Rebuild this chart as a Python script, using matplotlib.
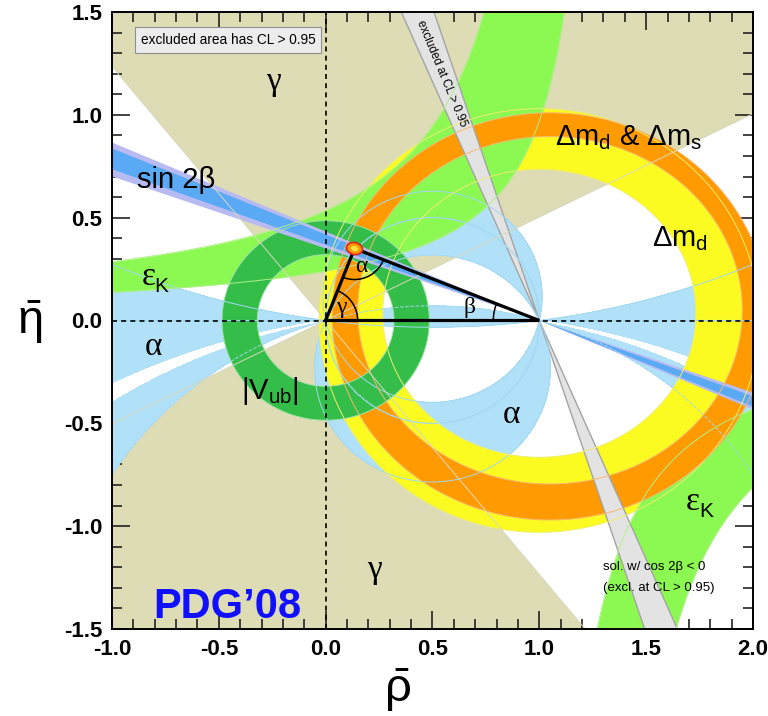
import matplotlib
matplotlib.use("Agg")
import matplotlib.pyplot as plt
import numpy as np
from matplotlib.patches import Wedge, Ellipse, PathPatch
from matplotlib.path import Path
from matplotlib.ticker import MultipleLocator

plt.rcParams['mathtext.fontset'] = 'custom'
plt.rcParams['mathtext.rm'] = 'Liberation Sans'
plt.rcParams['mathtext.it'] = 'Liberation Sans'
plt.rcParams['mathtext.default'] = 'rm'

# ---- constraint regions (95% CL) in the (rho, eta) plane ----
gamma_wedges = [(26.7, 129.0), (206.7, 309.0)]     # allowed directions from (0,0), deg
alpha_band = (77.0, 115.0)                          # alpha mod 180, deg
alpha_band_zero = (-16.3, 7.5)                      # solutions around alpha = 0 (mod 180)
alpha_gap = (-10.3, -8.4)                           # excluded sliver (signed alpha)
# rings: (center, semi-axes) of inner and outer edge
dmd_inner = ((1.0, 0.035), (0.733, 0.70))
dmd_outer = ((1.0, 0.0), (1.03, 1.03))
dms_inner = ((1.05, 0.05), (0.90, 0.845))
dms_outer = ((1.05, 0.02), (1.02, 0.99))
vub_inner = ((0.0, 0.0), (0.32, 0.32))
vub_outer = ((0.0, 0.0), (0.485, 0.485))
beta_outer = (19.3, 23.4)
beta_inner = (20.2, 22.7)
beta_excl = (66.7, 71.8)                            # cos 2beta < 0 solution
epsk_upper = [(1.33, 0.32), (1.15, 0.615)]          # eta*(a - rho) = k, inner / outer edge
epsk_lower = [(0.977, 0.44), (1.217, 0.634)]
apex = (0.135, 0.35)

xticks = [-1.0, -0.5, 0.0, 0.5, 1.0, 1.5, 2.0]
yticks = [-1.5, -1.0, -0.5, 0.0, 0.5, 1.0, 1.5]

c_gamma = '#dddcb4'
c_alpha = '#b1e1f8'
c_dmd = '#fbfb22'
c_dms = '#ff9a00'
c_epsk = '#8cf852'
c_vub = '#34bd48'
c_beta = '#5aa9f5'
c_beta2 = '#b7bbf2'
c_excl = '#e3e3e3'

W, H = 768, 716
fig = plt.figure(figsize=(W / 100, H / 100), dpi=100)
ax = fig.add_axes([112 / W, 1 - 629 / H, 641 / W, 617 / H])
ax.set_xlim(-1, 2)
ax.set_ylim(-1.5, 1.5)
sx = 641 / 3.0
sy = 617 / 3.0
tt = np.linspace(0, 2 * np.pi, 720)


def ellipse_xy(edge, reverse=False):
    (cx, cy), (rx, ry) = edge
    t = tt[::-1] if reverse else tt
    return cx + rx * np.cos(t), cy + ry * np.sin(t)


def ring(inner, outer, color, z):
    xo, yo = ellipse_xy(outer)
    xi, yi = ellipse_xy(inner, reverse=True)
    verts = np.concatenate([np.column_stack([xo, yo]), np.column_stack([xi, yi])])
    codes = np.full(len(verts), Path.LINETO)
    codes[0] = Path.MOVETO
    codes[len(xo)] = Path.MOVETO
    ax.add_patch(PathPatch(Path(verts, codes), fc=color, ec='none', zorder=z))


# gamma
for t1, t2 in gamma_wedges:
    ax.add_patch(Wedge((0, 0), 6, t1, t2, fc=c_gamma, ec='none', zorder=1))

# alpha
gx = np.linspace(-1.05, 2.05, 900) + 1e-4
gy = np.linspace(-1.55, 1.55, 900) + 1e-4
X, Y = np.meshgrid(gx, gy)
Z = X + 1j * Y
al = np.degrees(np.angle((Z - 1) / Z))
a1 = al % 180
a2 = (al + 90) % 180 - 90
ax.contourf(X, Y, a1, levels=list(alpha_band), colors=[c_alpha], zorder=2)
ax.contourf(X, Y, a2, levels=list(alpha_band_zero), colors=[c_alpha], zorder=2)
ax.contourf(X, Y, al, levels=list(alpha_gap), colors=['white'], zorder=2.1)

# Delta m_d
ring(dmd_inner, dmd_outer, c_dmd, 3)

# epsilon_K
rr = np.linspace(-1.05, 2.05, 3000)
(an, kn), (af, kf) = epsk_upper
xu = rr[rr < an - 1e-3]
lo = np.minimum(kn / (an - xu), 3)
hi = np.where(xu < af - 1e-3, kf / np.maximum(af - xu, 1e-6), 3)
hi = np.minimum(hi, 3)
ax.fill_between(xu, lo, hi, where=hi > lo, color=c_epsk, lw=0, zorder=4)
(an, kn), (af, kf) = epsk_lower
xl = rr[rr > an + 1e-3]
hi = np.maximum(-kn / (xl - an), -3)
lo = np.where(xl > af + 1e-3, -kf / np.maximum(xl - af, 1e-6), -3)
lo = np.maximum(lo, -3)
ax.fill_between(xl, lo, hi, where=hi > lo, color=c_epsk, lw=0, zorder=4)

# Delta m_d & Delta m_s
ring(dms_inner, dms_outer, c_dms, 5)

# |Vub|
ring(vub_inner, vub_outer, c_vub, 6)

# sin 2beta
for b1, b2, col in [(beta_outer[0], beta_outer[1], c_beta2), (beta_inner[0], beta_inner[1], c_beta)]:
    ax.add_patch(Wedge((1, 0), 6, 180 - b2, 180 - b1, fc=col, ec='none', zorder=7))
    ax.add_patch(Wedge((1, 0), 6, -b2, -b1, fc=col, ec='none', zorder=7))

# second sin 2beta solution, excluded
ax.add_patch(Wedge((1, 0), 6, 180 - beta_excl[1], 180 - beta_excl[0],
                   fc=c_excl, ec='#a4a4a4', lw=1.0, zorder=8))
ax.add_patch(Wedge((1, 0), 6, -beta_excl[1], -beta_excl[0],
                   fc=c_excl, ec='#a4a4a4', lw=1.0, zorder=8))

# thin contour outlines on top of everything
ol = dict(lw=0.7, zorder=9)
ax.contour(X, Y, a1, levels=list(alpha_band), colors=['#a2d8f2'], linewidths=0.7, zorder=9)
ax.contour(X, Y, a2, levels=list(alpha_band_zero), colors=['#a2d8f2'], linewidths=0.7, zorder=9)
for edge in (dmd_inner, dmd_outer):
    ax.plot(*ellipse_xy(edge), color='#eeee70', **ol)
for edge in (dms_inner, dms_outer):
    ax.plot(*ellipse_xy(edge), color='#f5b870', **ol)
for edge in (vub_inner, vub_outer):
    ax.plot(*ellipse_xy(edge), color='#9ee0a8', **ol)
for a, k in epsk_upper:
    xx = rr[rr < a - 1e-3]
    ax.plot(xx, k / (a - xx), color='#b0f088', **ol)
for a, k in epsk_lower:
    xx = rr[rr > a + 1e-3]
    ax.plot(xx, -k / (xx - a), color='#b0f088', **ol)
for t1, t2 in gamma_wedges:
    for t in (t1, t2):
        ax.plot([0, 6 * np.cos(np.radians(t))], [0, 6 * np.sin(np.radians(t))], color='#d8d8c0', **ol)

# reference axes
ax.axhline(0, color='k', ls=(0, (3, 2.5)), lw=1.2, zorder=10)
ax.axvline(0, color='k', ls=(0, (3, 2.5)), lw=1.2, zorder=10)

# unitarity triangle
ax.plot([0, apex[0], 1, 0], [0, apex[1], 0, 0], color='k', lw=2.3, zorder=11,
        solid_joinstyle='miter')


def arc(cx, cy, r_px, t1, t2):
    t = np.radians(np.linspace(t1, t2, 60))
    ax.plot(cx + r_px * np.cos(t) / sx, cy + r_px * np.sin(t) / sy, color='k', lw=1.1, zorder=11)


ang_top = np.degrees(np.arctan2(apex[1] * sy, apex[0] * sx))
ang_b = np.degrees(np.arctan2(apex[1] * sy, (1 - apex[0]) * sx))
arc(0, 0, 32, 0, ang_top)
arc(apex[0], apex[1], 31, -180 + ang_top, -ang_b)
arc(1, 0, 46, 180 - ang_b, 180)

ax.add_patch(Ellipse(apex, 0.075, 0.058, angle=-15, fc=c_dms, ec='#e02a1a', lw=1.3, zorder=12))
ax.add_patch(Ellipse(apex, 0.035, 0.026, angle=-15, fc='#ffe040', ec='none', zorder=12))

serif = ['Liberation Serif', 'DejaVu Serif']
sans = ['Liberation Sans', 'DejaVu Sans']
ax.text(0.168, 0.262, 'α', family=serif, fontsize=17, ha='center', va='center', zorder=13)
ax.text(0.075, 0.065, 'γ', family=serif, fontsize=17, ha='center', va='center', zorder=13)
ax.text(0.675, 0.065, 'β', family=serif, fontsize=17, ha='center', va='center', zorder=13)

big = dict(family=serif, fontsize=24, ha='center', va='center', zorder=13)
ax.text(-0.247, 1.16, 'γ', **big)
ax.text(0.23, -1.21, 'γ', **big)
ax.text(-0.807, -0.127, 'α', **big)
ax.text(0.87, -0.46, 'α', **big)
ax.text(-0.828, 0.213, 'ε', **big)
ax.text(-0.77, 0.165, 'K', family=sans, fontsize=15, ha='center', va='center', zorder=13)
ax.text(1.72, -0.88, 'ε', **big)
ax.text(1.78, -0.93, 'K', family=sans, fontsize=15, ha='center', va='center', zorder=13)

lab = dict(family=sans, fontsize=21, ha='left', va='center', zorder=13)
ax.text(-0.883, 0.683, 'sin 2β', **lab)
ax.text(1.073, 0.89, r'$\Delta$m$_{\rm d}$ & $\Delta$m$_{\rm s}$', **lab)
ax.text(1.525, 0.40, r'$\Delta$m$_{\rm d}$', **lab)
ax.text(-0.26, -0.345, r'|V$_{\rm ub}$|', family=sans, fontsize=21, ha='center', va='center', zorder=13)

ax.text(-0.808, -1.393, 'PDG’08', family=sans, fontsize=30, weight='bold', color='#1010ff',
        ha='left', va='center', zorder=13)

ax.text(-0.457, 1.364, 'excluded area has CL > 0.95', family=sans, fontsize=9.8, ha='center',
        va='center', zorder=13,
        bbox=dict(boxstyle='square,pad=0.42', fc='#ececec', ec='#909090', lw=0.8))
ax.text(0.545, 1.2, 'excluded at CL > 0.95', family=sans, fontsize=8.5, rotation=-67.5,
        ha='center', va='center', zorder=13)
ax.text(1.30, -1.20, 'sol. w/ cos 2β < 0', family=sans, fontsize=9.5, ha='left', va='center', zorder=13)
ax.text(1.30, -1.30, '(excl. at CL > 0.95)', family=sans, fontsize=9.5, ha='left', va='center', zorder=13)

# axes styling
ax.set_xticks(xticks)
ax.set_yticks(yticks)
ax.set_xticklabels([f'{v:.1f}' for v in xticks])
ax.set_yticklabels([f'{v:.1f}' for v in yticks])
ax.xaxis.set_minor_locator(MultipleLocator(0.1))
ax.yaxis.set_minor_locator(MultipleLocator(0.1))
ax.tick_params(which='both', direction='in', top=True, right=True, width=1.2, color='#222222')
ax.tick_params(which='major', length=13)
ax.tick_params(which='minor', length=7)
ax.tick_params(axis='x', pad=7)
ax.tick_params(axis='y', pad=7)
for lbl in ax.get_xticklabels() + ax.get_yticklabels():
    lbl.set_family(['Liberation Sans Narrow', 'Liberation Sans'])
    lbl.set_weight('bold')
    lbl.set_fontsize(16)
for s in ax.spines.values():
    s.set_linewidth(1.4)
    s.set_zorder(20)

fig.text(397 / W, 1 - 690 / H, r'$\bar{\rho}$', fontsize=34, ha='center', va='center')
fig.text(30 / W, 1 - 322 / H, r'$\bar{\eta}$', fontsize=34, ha='center', va='center')

fig.savefig('out.png', dpi=100)
